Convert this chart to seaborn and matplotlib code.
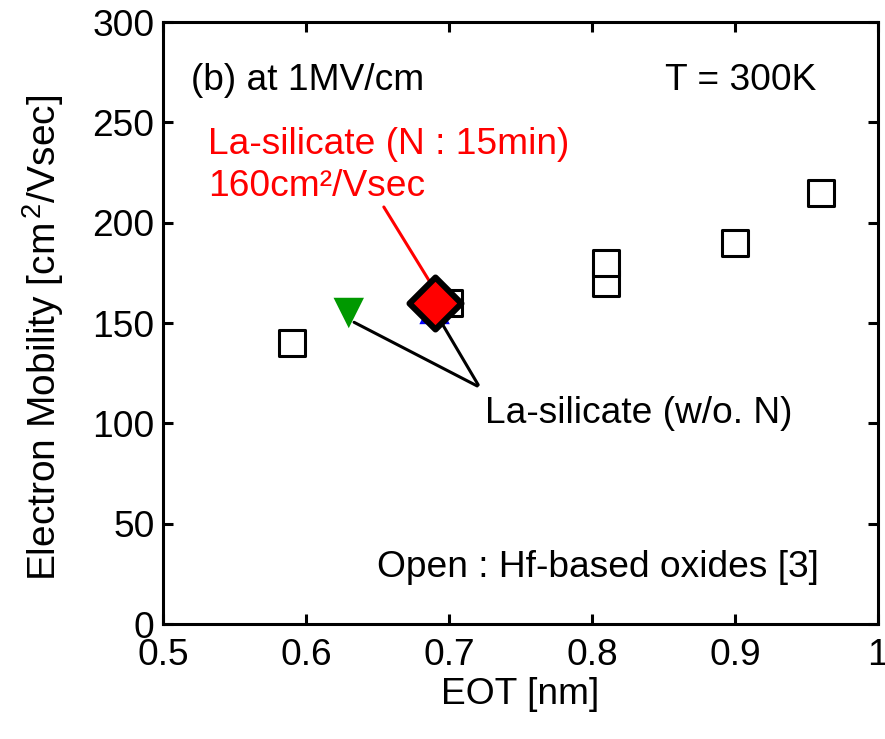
import matplotlib
matplotlib.use("Agg")
import matplotlib.pyplot as plt
import seaborn as sns
import pandas as pd

# Hf-based oxides (open squares)
hf_eot = [0.59, 0.70, 0.81, 0.81, 0.90, 0.96]
hf_mob = [140, 160, 170, 180, 190, 215]

# La-silicate without nitridation
la_wo_eot = [0.63]
la_wo_mob = [155]
la_wo2_eot = [0.69]
la_wo2_mob = [157]

# La-silicate with 15 min nitridation
la_n_eot = [0.69]
la_n_mob = [160]

x_ticks = [0.5, 0.6, 0.7, 0.8, 0.9, 1.0]
x_labels = ["0.5", "0.6", "0.7", "0.8", "0.9", "1"]
y_ticks = [0, 50, 100, 150, 200, 250, 300]

sns.set_theme(style="ticks")
plt.rcParams["font.family"] = ["Liberation Sans", "DejaVu Sans"]
plt.rcParams["mathtext.fontset"] = "custom"
plt.rcParams["mathtext.rm"] = "Liberation Sans"
plt.rcParams["mathtext.it"] = "Liberation Sans"
plt.rcParams["text.color"] = "black"
plt.rcParams["axes.labelcolor"] = "black"
plt.rcParams["axes.linewidth"] = 2.2

fs = 26.7

fig = plt.figure(figsize=(8.85, 7.39), dpi=100)
ax = fig.add_axes([0.184, 0.1556, 0.808, 0.8146])

df_hf = pd.DataFrame({"eot": hf_eot, "mob": hf_mob})
sns.scatterplot(data=df_hf, x="eot", y="mob", ax=ax, marker="s", s=330,
                facecolor="white", edgecolor="black", linewidth=2.2, zorder=3)

sns.scatterplot(x=la_wo_eot, y=la_wo_mob, ax=ax, marker="v", s=480,
                color="#009900", edgecolor="none", linewidth=0, zorder=4)
sns.scatterplot(x=la_wo2_eot, y=la_wo2_mob, ax=ax, marker="^", s=480,
                color="#0000ff", edgecolor="none", linewidth=0, zorder=4)
sns.scatterplot(x=la_n_eot, y=la_n_mob, ax=ax, marker="D", s=700,
                color="#ff0000", edgecolor="black", linewidth=4.4, zorder=6)

ax.set_xlim(0.5, 1.0)
ax.set_ylim(0, 300)
ax.set_xticks(x_ticks)
ax.set_xticklabels(x_labels)
ax.set_yticks(y_ticks)
ax.tick_params(direction="in", length=7, width=2.2, labelsize=fs,
               top=True, right=True, colors="black")
ax.tick_params(axis="x", pad=10)
ax.tick_params(axis="y", pad=6)
for sp in ax.spines.values():
    sp.set_color("black")
    sp.set_visible(True)

ax.set_xlabel("EOT [nm]", fontsize=fs, labelpad=3)
ax.set_ylabel("Electron Mobility [cm$^{\\,2}$/Vsec]", fontsize=28)
ax.yaxis.set_label_coords(-0.135, 0.475)

ax.text(0.520, 271, "(b) at 1MV/cm", fontsize=fs, va="center", ha="left")
ax.text(0.851, 271, "T = 300K", fontsize=fs, va="center", ha="left")
ax.text(0.650, 28, "Open : Hf-based oxides [3]", fontsize=fs, va="center", ha="left")

ax.text(0.5315, 239, "La-silicate (N : 15min)", fontsize=fs, color="red",
        va="center", ha="left")
ax.text(0.5315, 218, "160cm\u00b2/Vsec", fontsize=fs, color="red",
        va="center", ha="left")
ax.annotate("", xy=(la_n_eot[0] - 0.002, la_n_mob[0] + 9), xytext=(0.6535, 209),
            arrowprops=dict(arrowstyle="-", color="red", lw=2.2), zorder=5)

ax.text(0.725, 105, "La-silicate (w/o. N)", fontsize=fs, va="center", ha="left")
ax.annotate("", xy=(la_wo_eot[0] + 0.002, la_wo_mob[0] - 4), xytext=(0.7215, 118),
            arrowprops=dict(arrowstyle="-", color="black", lw=2.2), zorder=5)
ax.annotate("", xy=(la_n_eot[0] + 0.005, la_n_mob[0] - 10), xytext=(0.7215, 118),
            arrowprops=dict(arrowstyle="-", color="black", lw=2.2), zorder=5)

fig.savefig("out.png", dpi=100)
